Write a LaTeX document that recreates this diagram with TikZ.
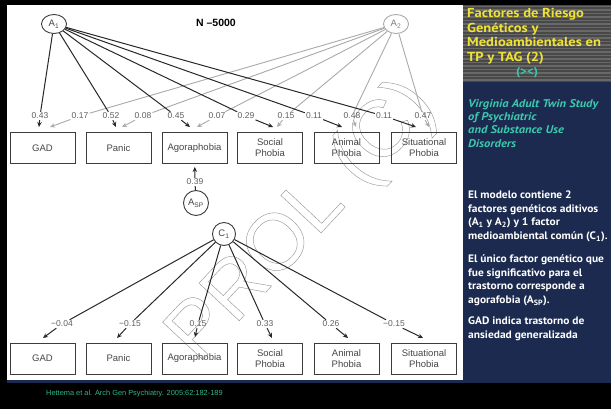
\documentclass[tikz,border=0pt]{standalone}
\usepackage{fontspec}
\setmainfont{Liberation Sans}
\newfontfamily\slidefont[FakeStretch=1.12]{PT Sans}
\newfontfamily\widefont[FakeStretch=1.06]{PT Sans}
\usetikzlibrary{arrows.meta,shapes.geometric}
\definecolor{navyblue}{RGB}{27,42,78}
\definecolor{stripedark}{RGB}{72,72,72}
\definecolor{stripelight}{RGB}{104,104,104}
\definecolor{titleyellow}{RGB}{238,226,58}
\definecolor{studyteal}{RGB}{60,200,174}
\definecolor{citegreen}{RGB}{45,184,138}
\definecolor{boxgray}{RGB}{60,60,60}
\definecolor{textgray}{RGB}{70,70,70}
\definecolor{labgray}{RGB}{95,95,95}
\definecolor{pathgray}{RGB}{40,40,40}
\definecolor{lightpath}{RGB}{170,170,170}
\newcommand{\outlined}[1]{\special{pdf:literal direct 1 Tr 0.45 w}#1\special{pdf:literal direct 0 Tr}}
\tikzset{
	box/.style={draw=boxgray,line width=0.9pt,minimum width=65pt,minimum height=31pt,align=center,text=textgray,font=\fontsize{9.5}{11}\selectfont},
	factor/.style={ellipse,draw=boxgray,line width=0.9pt,minimum width=25pt,minimum height=19pt,inner sep=0pt,text=textgray,font=\fontsize{9.5}{11}\selectfont},
	lbl/.style={inner sep=1pt,text=labgray,font=\fontsize{8.5}{10}\selectfont},
	blk/.style={draw=pathgray,line width=1pt},
	gry/.style={draw=lightpath,line width=0.9pt},
	tip/.style={-{Stealth[length=5pt,width=4.5pt]}},
	slidetext/.style={anchor=north west,inner sep=0pt,align=left,text=white,font=\widefont\bfseries\fontsize{10.8}{13.5}\selectfont}
}
\begin{document}
\begin{tikzpicture}[x=1pt,y=-1pt]
	\useasboundingbox (0,0) rectangle (611,409);
	\fill (0,0) rectangle (611,409);
	\fill[navyblue] (7,5) rectangle (611,383);
	\fill[white] (7,5) rectangle (463,380);
	\fill[stripedark] (463,5) rectangle (611,82);
	\foreach \y in {6.5,10,...,81} \draw[stripelight,line width=1.2pt] (463,\y) -- (611,\y);
	\node[rotate=47,text=gray!80,font=\fontsize{80}{80}\selectfont] (mark) at (303,222) {\outlined{PROL (C)}};
	\node[anchor=north west,inner sep=0pt,align=left,text=titleyellow,font=\slidefont\bfseries\fontsize{13}{14.6}\selectfont] (title) at (467,8) {Factores de Riesgo\\Genéticos y\\Medioambientales en\\TP y TAG (2)};
	\node[text=studyteal,font=\slidefont\bfseries\fontsize{11.5}{12}\selectfont] (sign) at (527,73) {(><)};
	\node[slidetext,text=studyteal,font=\slidefont\bfseries\itshape\fontsize{11.2}{13.3}\selectfont] (study) at (468,99) {Virginia Adult Twin Study\\of Psychiatric\\and Substance Use\\Disorders};
	\node[slidetext] (model) at (468,191) {El modelo contiene 2\\factores genéticos aditivos\\(A\textsubscript{1} y A\textsubscript{2}) y 1 factor\\medioambiental común (C\textsubscript{1}).};
	\node[slidetext] (single) at (468,255) {El único factor genético que\\fue significativo para el\\trastorno corresponde a\\agorafobia (A\textsubscript{SP}).};
	\node[slidetext] (gadnote) at (468,317) {GAD indica trastorno de\\ansiedad generalizada};
	\node[anchor=west,inner sep=0pt,text=citegreen,font=\fontsize{7.4}{8}\selectfont] (cite) at (46,394) {Hettema et al. Arch Gen Psychiatry. 2005;62:182-189};
	\node[font=\bfseries\fontsize{10.5}{12}\selectfont] (N) at (216,23) {N –5000};
	\node[factor] (A1) at (54,24) {A\textsubscript{1}};
	\node[factor,draw=lightpath,text=gray] (A2) at (396,24) {A\textsubscript{2}};
	\node[box] (gad) at (42.5,148) {GAD};
	\node[box] (panic) at (118.5,148) {Panic};
	\node[box] (agora) at (194.5,148) {Agoraphobia};
	\node[box] (social) at (270,148) {Social\\Phobia};
	\node[box] (animal) at (346.5,148) {Animal\\Phobia};
	\node[box] (situ) at (424,148) {Situational\\Phobia};
	\node[lbl] (a1gad) at (40,116) {0.43};
	\node[lbl] (a2gad) at (80,116) {0.17};
	\node[lbl] (a1pan) at (111,116) {0.52};
	\node[lbl] (a2pan) at (143,116) {0.08};
	\node[lbl] (a1ago) at (176,116) {0.45};
	\node[lbl] (a2ago) at (217,116) {0.07};
	\node[lbl] (a1soc) at (246,116) {0.29};
	\node[lbl] (a2soc) at (286,116) {0.15};
	\node[lbl] (a1ani) at (314,116) {0.11};
	\node[lbl] (a2ani) at (352,116) {0.48};
	\node[lbl] (a1sit) at (384,116) {0.11};
	\node[lbl] (a2sit) at (423,116) {0.47};
	\coordinate (t1gad) at (39,127);
	\coordinate (t2gad) at (50,127);
	\coordinate (t1pan) at (116,127);
	\coordinate (t2pan) at (122,127);
	\coordinate (t1ago) at (190,127);
	\coordinate (t2ago) at (197,127);
	\coordinate (t1soc) at (273,127);
	\coordinate (t2soc) at (277,127);
	\coordinate (t1ani) at (342,127);
	\coordinate (t2ani) at (356,127);
	\coordinate (t1sit) at (416,127);
	\coordinate (t2sit) at (429,127);
	\draw[gry] (A2) -- (a2gad); \draw[gry,tip] (a2gad) -- (t2gad);
	\draw[gry] (A2) -- (a2pan); \draw[gry,tip] (a2pan) -- (t2pan);
	\draw[gry] (A2) -- (a2ago); \draw[gry,tip] (a2ago) -- (t2ago);
	\draw[gry] (A2) -- (a2soc); \draw[gry,tip] (a2soc) -- (t2soc);
	\draw[gry] (A2) -- (a2ani); \draw[gry,tip] (a2ani) -- (t2ani);
	\draw[gry] (A2) -- (a2sit); \draw[gry,tip] (a2sit) -- (t2sit);
	\draw[blk] (A1) -- (a1gad); \draw[blk,tip] (a1gad) -- (t1gad);
	\draw[blk] (A1) -- (a1pan); \draw[blk,tip] (a1pan) -- (t1pan);
	\draw[blk] (A1) -- (a1ago); \draw[blk,tip] (a1ago) -- (t1ago);
	\draw[blk] (A1) -- (a1soc); \draw[blk,tip] (a1soc) -- (t1soc);
	\draw[blk] (A1) -- (a1ani); \draw[blk,tip] (a1ani) -- (t1ani);
	\draw[blk] (A1) -- (a1sit); \draw[blk,tip] (a1sit) -- (t1sit);
	\node[factor,circle,minimum size=25pt] (Asp) at (196,203) {A\textsubscript{SP}};
	\node[lbl] (sp) at (195,182) {0.39};
	\draw[blk] (Asp) -- (sp); \draw[blk,tip,shorten >=3pt] (sp) -- (agora);
	\node[factor,circle,minimum size=23pt] (C1) at (224,234) {C\textsubscript{1}};
	\node[box] (gadb) at (42.5,358.5) {GAD};
	\node[box] (panicb) at (118.5,358.5) {Panic};
	\node[box] (agorab) at (194.5,358.5) {Agoraphobia};
	\node[box] (socialb) at (270,358.5) {Social\\Phobia};
	\node[box] (animalb) at (346.5,358.5) {Animal\\Phobia};
	\node[box] (situb) at (424,358.5) {Situational\\Phobia};
	\node[lbl] (cgad) at (62,324) {−0.04};
	\node[lbl] (cpan) at (130,324) {−0.15};
	\node[lbl] (cago) at (198,324) {0.15};
	\node[lbl] (csoc) at (265,324) {0.33};
	\node[lbl] (cani) at (331,324) {0.26};
	\node[lbl] (csit) at (394,324) {−0.15};
	\coordinate (ugad) at (43,338);
	\coordinate (upan) at (117,338);
	\coordinate (uago) at (195,337);
	\coordinate (usoc) at (272,338);
	\coordinate (uani) at (348,338);
	\coordinate (usit) at (423,338);
	\draw[blk] (C1) -- (cgad); \draw[blk,tip] (cgad) -- (ugad);
	\draw[blk] (C1) -- (cpan); \draw[blk,tip] (cpan) -- (upan);
	\draw[blk] (C1) -- (cago); \draw[blk,tip] (cago) -- (uago);
	\draw[blk] (C1) -- (csoc); \draw[blk,tip] (csoc) -- (usoc);
	\draw[blk] (C1) -- (cani); \draw[blk,tip] (cani) -- (uani);
	\draw[blk] (C1) -- (csit); \draw[blk,tip] (csit) -- (usit);
\end{tikzpicture}
\end{document}
